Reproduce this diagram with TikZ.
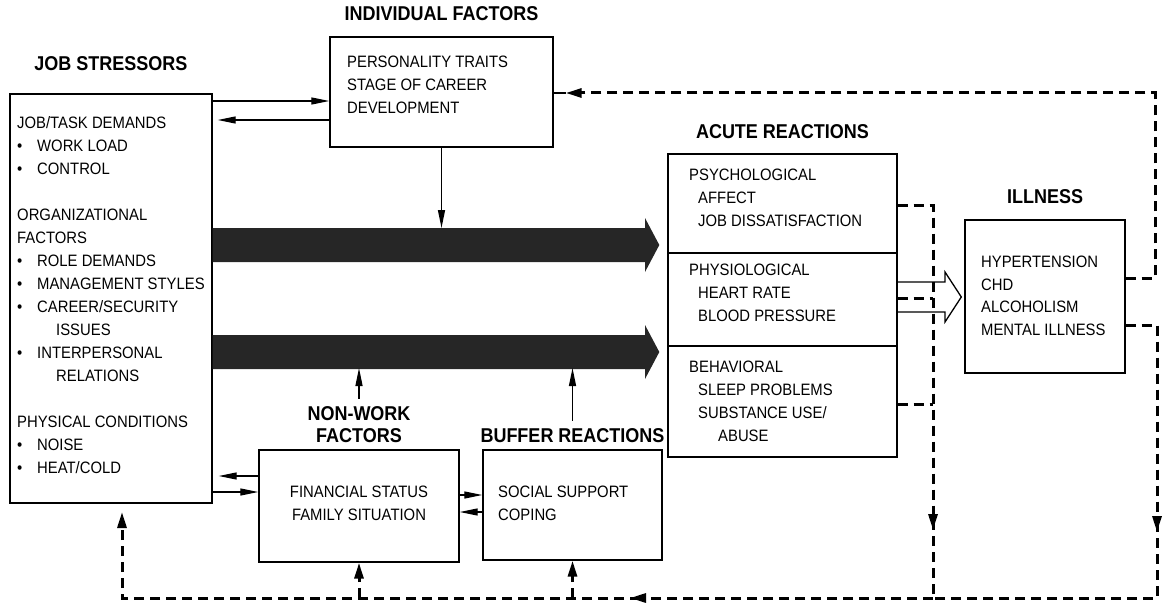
\documentclass[tikz,border=0pt]{standalone}
\usepackage{fontspec}
\setmainfont{Liberation Sans}[FakeStretch=0.9]
\usetikzlibrary{arrows.meta,positioning}

\newcommand{\bul}{\makebox[20pt][l]{\textbullet}}
\newcommand{\sub}{\hspace*{9pt}}

\begin{document}
\begin{tikzpicture}[
    x=1pt, y=-1pt,
    font=\fontsize{16.5}{23}\selectfont,
    box/.style={draw, line width=1.4pt, inner sep=0pt},
    txt/.style={anchor=north west, align=left, inner sep=0pt},
    title/.style={font=\fontsize{20}{22}\selectfont\bfseries, inner sep=0pt, align=center},
    line/.style={-{Triangle[length=18pt, width=7pt]}, line width=1.3pt},
    fb/.style={line width=3pt, dash pattern=on 10pt off 6pt},
    fbarrow/.style={fb, -{Triangle[length=16pt, width=9pt]}},
    fat/.style={fill=black!85}
]
\useasboundingbox (0,0) rectangle (1166,607);

% boxes
\node[box, minimum width=202pt, minimum height=409pt] (job) at (111,298.5) {};
\node[box, minimum width=223pt, minimum height=110pt] (indiv) at (441.5,92) {};
\node[box, minimum width=229pt, minimum height=303pt] (acute) at (782.5,305.5) {};
\node[box, minimum width=160pt, minimum height=153pt] (illness) at (1045,296.5) {};
\node[box, minimum width=200pt, minimum height=112pt] (nonwork) at (359,506) {};
\node[box, minimum width=179pt, minimum height=110pt] (buffer) at (572.5,505) {};

% titles
\node[title, above=22pt of job] (jobtitle) {JOB STRESSORS};
\node[title, above=15pt of indiv] (indivtitle) {INDIVIDUAL FACTORS};
\node[title, above=14pt of acute] (acutetitle) {ACUTE REACTIONS};
\node[title, above=15pt of illness] (illtitle) {ILLNESS};
\node[title, above=6pt of nonwork] (nwtitle) {NON-WORK\\FACTORS};
\node[title, above=6pt of buffer] (buftitle) {BUFFER REACTIONS};

% box texts
\node[txt] (jobtext) at (17,116) {JOB/TASK DEMANDS\\
  \bul WORK LOAD\\
  \bul CONTROL\\[23pt]
  ORGANIZATIONAL\\
  FACTORS\\
  \bul ROLE DEMANDS\\
  \bul MANAGEMENT STYLES\\
  \bul CAREER/SECURITY\\
  \hspace*{39pt}ISSUES\\
  \bul INTERPERSONAL\\
  \hspace*{39pt}RELATIONS\\[23pt]
  PHYSICAL CONDITIONS\\
  \bul NOISE\\
  \bul HEAT/COLD};
\node[txt] (indivtext) at (347,56) {PERSONALITY TRAITS\\STAGE OF CAREER\\DEVELOPMENT};
\node[txt] (psych) at (689,169) {PSYCHOLOGICAL\\ \sub AFFECT\\ \sub JOB DISSATISFACTION};
\node[txt] (physio) at (689,264) {PHYSIOLOGICAL\\ \sub HEART RATE\\ \sub BLOOD PRESSURE};
\node[txt] (behav) at (689,361) {BEHAVIORAL\\ \sub SLEEP PROBLEMS\\ \sub SUBSTANCE USE/\\ \hspace*{29pt}ABUSE};
\node[txt, font=\fontsize{16.5}{22.5}\selectfont] (illtext) at (981,256) {HYPERTENSION\\CHD\\ALCOHOLISM\\MENTAL ILLNESS};
\node[align=center, inner sep=0pt] (nwtext) at (359,503) {FINANCIAL STATUS\\FAMILY SITUATION};
\node[txt] (buftext) at (498,486) {SOCIAL SUPPORT\\COPING};

% dividers of the acute box
\draw[line width=1.4pt] (acute.west |- 0,253) -- (acute.east |- 0,253);
\draw[line width=1.4pt] (acute.west |- 0,346) -- (acute.east |- 0,346);

% main paths
\foreach \y in {245,352}
  \fill[fat] (job.east |- 0,\y-17) -- (645,\y-17) -- (645,\y-27)
    -- ([xshift=-8pt]acute.west |- 0,\y) -- (645,\y+27) -- (645,\y+17)
    -- (job.east |- 0,\y+17) -- cycle;

\draw[line] (job.east |- 0,101) -- (indiv.west |- 0,101);
\draw[line, shorten >=5pt] (indiv.west |- 0,120) -- (job.east |- 0,120);
\draw[line] (indiv.south) -- (indiv.south |- 0,228);
\draw[line, shorten <=8pt] (nwtitle.north) -- (nwtitle.north |- 0,368);
\draw[line, shorten <=8pt] (buftitle.north) -- (buftitle.north |- 0,368);
\draw[line, shorten >=6pt] (nonwork.west |- 0,476) -- (job.east |- 0,476);
\draw[line] (job.east |- 0,492) -- (nonwork.west |- 0,492);
\draw[line] (nonwork.east |- 0,495) -- (buffer.west |- 0,495);
\draw[line] (buffer.west |- 0,512) -- (nonwork.east |- 0,512);

% acute -> illness
\draw[line width=1.3pt] (acute.east |- 0,282) -- (945,282) -- (945,272)
  -- ([xshift=-3pt]illness.west |- 0,297) -- (945,322) -- (945,312) -- (acute.east |- 0,312);

% feedback
\coordinate (dropA) at (933,598);
\coordinate (dropB) at (1157,598);
\draw[line width=1.3pt] (indiv.east |- 0,93) -- (566,93);
\draw[fbarrow] (illness.east |- 0,278) -| (1155,93) -- (indiv.east |- 0,93) [shorten >=12pt];
\draw[fbarrow] (acute.east |- 0,205) -| (933,530);
\draw[fb] (933,520) -- (dropA);
\draw[fb] (acute.east |- 0,298) -- (933,298);
\draw[fb] (acute.east |- 0,404) -- (933,404);
\draw[fbarrow] (illness.east |- 0,325) -| (1157,532);
\draw[fb] (1157,522) |- (dropA);
\draw[fbarrow] (dropA) -- (630,598);
\draw[fbarrow, shorten >=9pt] (640,598) -| (122,503);
\draw[fbarrow] (nonwork.south |- dropA) -- (nonwork.south);
\draw[fbarrow] (buffer.south |- dropA) -- (buffer.south);
\end{tikzpicture}
\end{document}
